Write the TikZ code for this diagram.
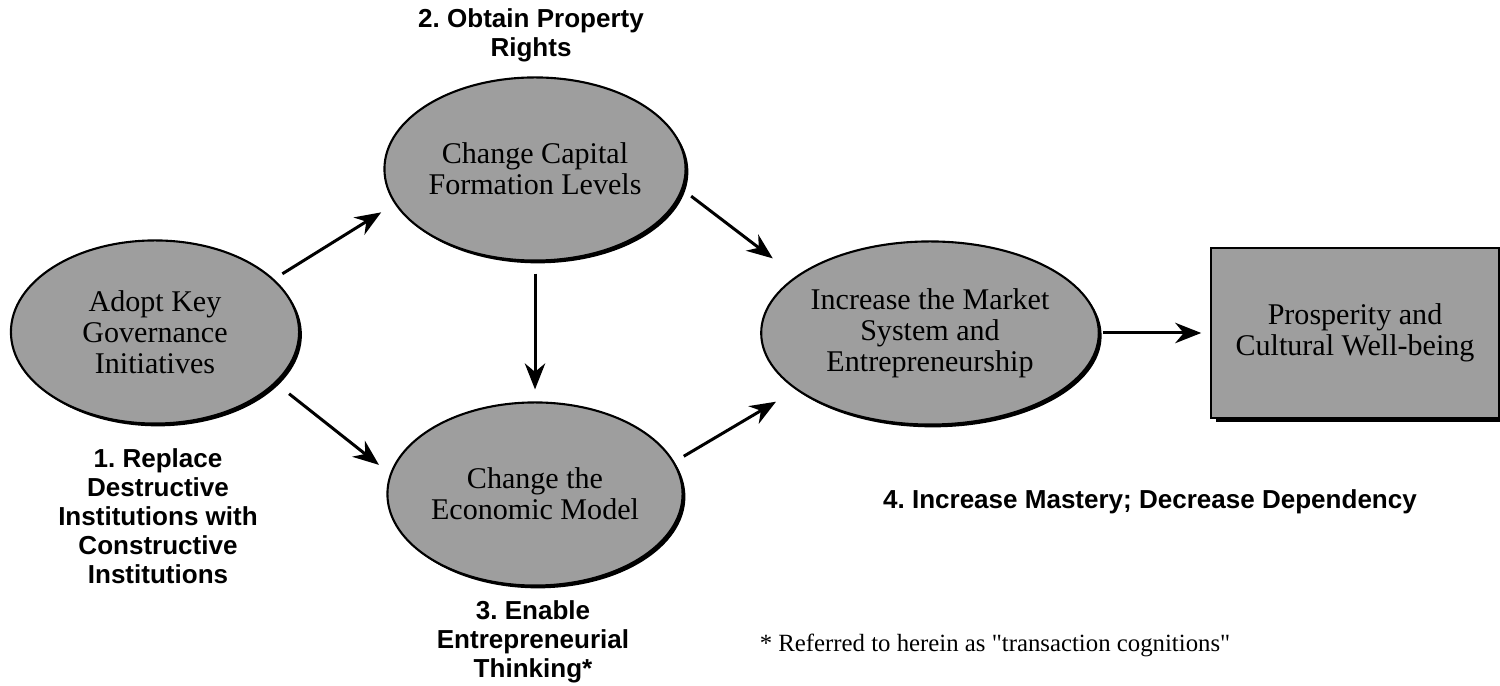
\documentclass[tikz,border=0pt]{standalone}
\usepackage{fontspec}
\setmainfont{Liberation Serif}
\newfontfamily\labelfont{Liberation Sans}
\newfontfamily\notefont{Liberation Serif}[Ligatures=TeXOff]
\usetikzlibrary{arrows.meta, shapes.geometric, shadows}
\frenchspacing

\begin{document}
\begin{tikzpicture}[x=0.01cm,y=-0.01cm,->,>={Stealth[length=7.4pt,width=5.8pt]},
  line width=0.85pt,
  step node/.style={ellipse,draw,fill=black!38,line width=0.6pt,inner sep=0pt,
    minimum width=2.95cm,minimum height=1.83cm,align=center,
    font=\fontsize{8.55}{8.8}\selectfont,
    drop shadow={shadow xshift=0.8pt,shadow yshift=-0.8pt,fill=black,opacity=1}},
  goal node/.style={rectangle,draw,fill=black!38,line width=0.6pt,inner sep=0pt,
    minimum width=2.87cm,minimum height=1.70cm,align=center,
    font=\fontsize{8.55}{8.8}\selectfont,
    drop shadow={shadow xshift=1.2pt,shadow yshift=-1.2pt,fill=black,opacity=1}},
  note/.style={align=center,font=\labelfont\bfseries\fontsize{7.4}{8.25}\selectfont}]
  \useasboundingbox (0,0) rectangle (1500,686);

  \node[step node, minimum width=2.88cm] (adopt) at (155,332) {Adopt Key\\Governance\\Initiatives};
  \node[step node] (capital) at (535,169) {Change Capital\\Formation Levels};
  \node[step node] (model) at (535,494) {Change the\\Economic Model};
  \node[step node] (market) at (930,333) {Increase the Market\\System and\\Entrepreneurship};
  \node[goal node] (wellbeing) at (1355,333) {Prosperity and\\Cultural Well-being};

  \node[note] (rights) at (531,35) {2. Obtain Property\\Rights};
  \node[note] (replace) at (158,516) {1. Replace\\Destructive\\Institutions with\\Constructive\\Institutions};
  \node[note] (thinking) at (533,642) {3. Enable\\Entrepreneurial\\Thinking*};
  \node[note] (mastery) at (1150,502) {4. Increase Mastery; Decrease Dependency};
  \node[font=\notefont\fontsize{7.05}{8}\selectfont] (footnote) at (995,645) {* Referred to herein as "transaction cognitions"};

  \path
     (adopt.24) edge[shorten <=2.8pt, shorten >=4.5pt] (capital.194)
     (adopt.-23) edge[shorten <=4.8pt, shorten >=4pt] (model.172)
     (capital.south) edge[shorten <=3.4pt, shorten >=3.4pt] (model.north)
     (capital.-8) edge[shorten <=3pt, shorten >=8.3pt] (market.157)
     (model.13) edge[shorten <=3.1pt, shorten >=6.6pt] (market.203)
     (market) edge[shorten <=0.9pt, shorten >=2.6pt] (wellbeing);
\end{tikzpicture}
\end{document}
